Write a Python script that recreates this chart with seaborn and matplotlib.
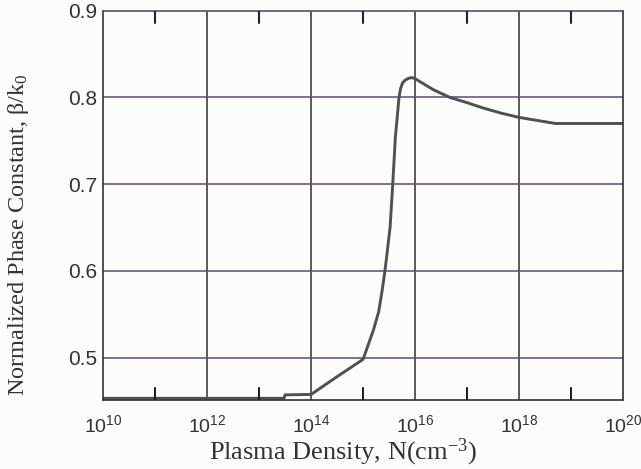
import matplotlib
matplotlib.use("Agg")
import matplotlib.pyplot as plt
import matplotlib.ticker as mticker
import numpy as np
import pandas as pd
import seaborn as sns

# values (x as powers of ten)
log_density = [10.0, 13.48, 13.5, 14.0, 14.5, 15.0, 15.1, 15.2, 15.3, 15.36,
               15.42, 15.47, 15.52, 15.57, 15.62, 15.66, 15.69, 15.72, 15.76,
               15.81, 15.87, 15.94, 16.02, 16.1, 16.35, 16.67, 17.0, 17.3,
               17.65, 18.0, 18.35, 18.7, 20.0]
beta_norm = [0.453, 0.453, 0.457, 0.4575, 0.478, 0.498, 0.515, 0.532, 0.553, 0.575,
             0.600, 0.625, 0.651, 0.700, 0.754, 0.780, 0.800, 0.810, 0.817,
             0.820, 0.822, 0.823, 0.821, 0.818, 0.809, 0.800, 0.794, 0.788,
             0.782, 0.777, 0.7735, 0.770, 0.770]
x_major = [1e10, 1e12, 1e14, 1e16, 1e18, 1e20]
x_minor = [1e11, 1e13, 1e15, 1e17, 1e19]
y_ticks = [0.5, 0.6, 0.7, 0.8, 0.9]

df = pd.DataFrame({"N": 10.0 ** np.array(log_density), "beta": beta_norm})

sns.set_theme(style="white")
plt.rcParams["font.family"] = ["Liberation Sans", "DejaVu Sans"]
plt.rcParams["axes.facecolor"] = "#fcfcfa"
plt.rcParams["figure.facecolor"] = "#fcfcfa"

fig = plt.figure(figsize=(6.41, 4.69), dpi=100)
ax = fig.add_axes([0.1607, 0.147, 0.8115, 0.830])

sns.lineplot(data=df, x="N", y="beta", ax=ax, color="#505050", linewidth=2.1)

ax.set_xscale("log")
ax.set_xlim(1e10, 1e20)
ax.set_ylim(0.451, 0.9)

ax.xaxis.set_major_locator(mticker.FixedLocator(x_major))
ax.xaxis.set_minor_locator(mticker.NullLocator())
ax.xaxis.set_major_formatter(mticker.FuncFormatter(
    lambda v, p: r"$\mathregular{10^{%d}}$" % round(np.log10(v))))
ax.set_yticks(y_ticks)
ax.set_yticklabels([f"{t:.1f}" for t in y_ticks])

for x in x_major[1:-1]:
    ax.axvline(x, color="#2e2e2e", linewidth=1.1, zorder=1)
for y in y_ticks[:-1]:
    ax.axhline(y, color="#5e4a78", linewidth=1.1, zorder=1)

# short inward ticks at the odd decades, bottom and top
for x in x_minor:
    ax.axvline(x, ymin=0, ymax=0.031, color="#222222", linewidth=1.5, zorder=3)
    ax.axvline(x, ymin=0.969, ymax=1, color="#222222", linewidth=1.5, zorder=3)

ax.tick_params(axis="both", which="major", direction="in", length=0,
               colors="#333333")
ax.tick_params(axis="y", which="major", pad=4, labelsize=15)
ax.tick_params(axis="x", which="major", pad=10, labelsize=14)

for s in ax.spines.values():
    s.set_color("#333333")
    s.set_linewidth(1.2)
ax.spines["top"].set_color("#5e4a78")

ax.set_xlabel(r"Plasma Density, N(cm$\mathregular{^{-3}}$)", fontsize=19,
              family="Liberation Serif", color="#333333")
ax.xaxis.set_label_coords(0.4615, -0.095)
ax.set_ylabel(r"Normalized Phase Constant, β/k$\mathregular{_0}$", fontsize=17.5,
              family="Liberation Serif", color="#333333")
ax.yaxis.set_label_coords(-0.138, 0.425)

fig.savefig("out.png", dpi=100)
